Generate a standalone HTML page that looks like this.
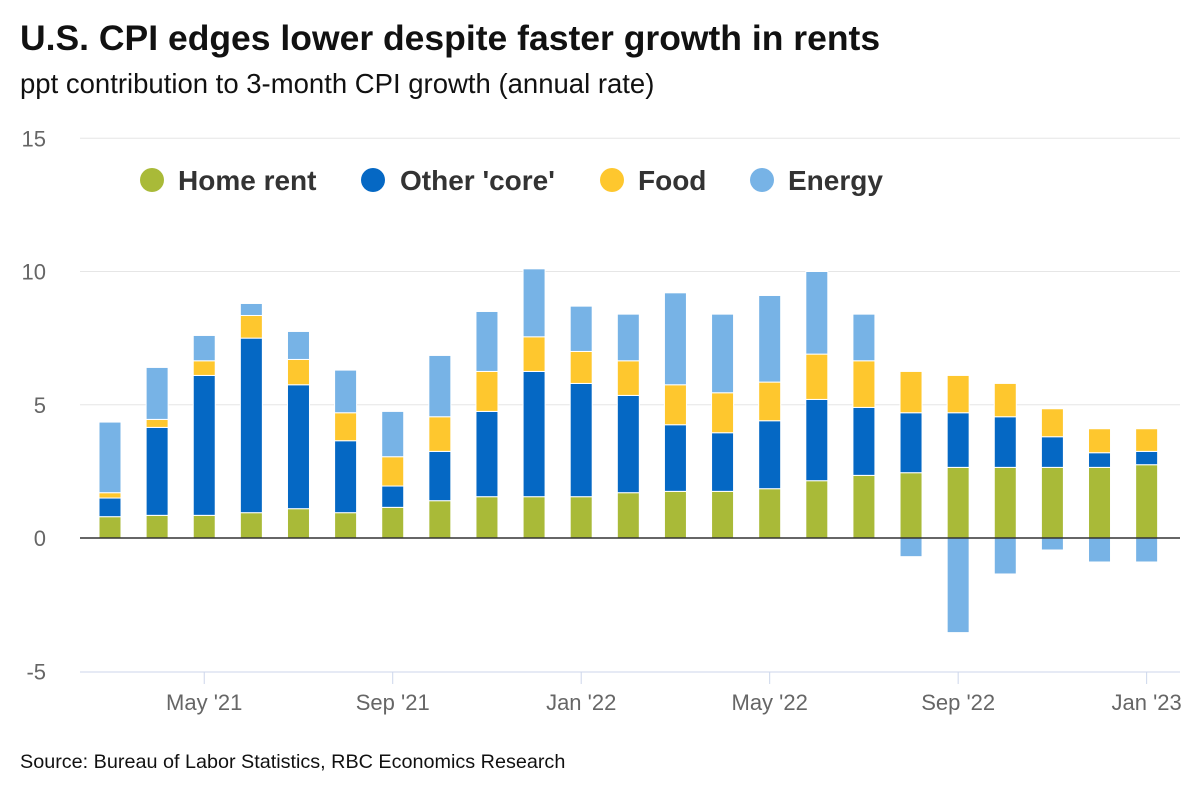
<!DOCTYPE html>
<html><head><meta charset="utf-8"><style>
body{margin:0;background:#fff;font-family:"Liberation Sans",Arial,sans-serif}
svg{display:block}
</style></head><body>
<svg id="chart" width="1200" height="800">
<text x="20" y="50" font-size="35.5" font-weight="bold" fill="#111">U.S. CPI edges lower despite faster growth in rents</text>
<text x="20" y="93" font-size="27.5" fill="#111">ppt contribution to 3-month CPI growth (annual rate)</text>
<text x="20" y="768" font-size="19.8" fill="#111">Source: Bureau of Labor Statistics, RBC Economics Research</text>
<g id="grid"></g><g id="bars"></g><g id="axes"></g>
<g font-size="28" font-weight="bold" fill="#333">
<circle cx="152" cy="180" r="12" fill="#a9ba38"/><text x="178" y="190">Home rent</text>
<circle cx="373" cy="180" r="12" fill="#0568c4"/><text x="400" y="190">Other 'core'</text>
<circle cx="612" cy="180" r="12" fill="#fec72e"/><text x="638" y="190">Food</text>
<circle cx="762" cy="180" r="12" fill="#77b3e6"/><text x="788" y="190">Energy</text>
</g>
</svg>
<script>
const months=["Mar '21","Apr '21","May '21","Jun '21","Jul '21","Aug '21","Sep '21","Oct '21","Nov '21","Dec '21","Jan '22","Feb '22","Mar '22","Apr '22","May '22","Jun '22","Jul '22","Aug '22","Sep '22","Oct '22","Nov '22","Dec '22","Jan '23"];
const homeRent=[0.8,0.85,0.85,0.95,1.1,0.95,1.15,1.4,1.55,1.55,1.55,1.7,1.75,1.75,1.85,2.15,2.35,2.45,2.65,2.65,2.65,2.65,2.75];
const otherCore=[0.7,3.3,5.25,6.55,4.65,2.7,0.8,1.85,3.2,4.7,4.25,3.65,2.5,2.2,2.55,3.05,2.55,2.25,2.05,1.9,1.15,0.55,0.5];
const food=[0.2,0.3,0.55,0.85,0.95,1.05,1.1,1.3,1.5,1.3,1.2,1.3,1.5,1.5,1.45,1.7,1.75,1.55,1.4,1.25,1.05,0.9,0.85];
const energy=[2.65,1.95,0.95,0.45,1.05,1.6,1.7,2.3,2.25,2.55,1.7,1.75,3.45,2.95,3.25,3.1,1.75,-0.7,-3.55,-1.35,-0.45,-0.9,-0.9];
const yTicks=[-5,0,5,10,15];
const xTickLabels=["May '21","Sep '21","Jan '22","May '22","Sep '22","Jan '23"];
const NS="http://www.w3.org/2000/svg";
const y=v=>538-v*26.65;
const x=i=>110+i*47.12;
function mk(t,a,p){const e=document.createElementNS(NS,t);for(const k in a)e.setAttribute(k,a[k]);p.appendChild(e);return e;}
const grid=document.getElementById('grid'),bars=document.getElementById('bars'),axes=document.getElementById('axes');
yTicks.forEach(v=>{
 if(v!==-5&&v!==0){const l=mk('line',{x1:80,x2:1180,y1:y(v),y2:y(v),stroke:'#e6e6e6','stroke-width':1},grid);
 
 }
 const t=mk('text',{x:46,y:y(v)+8,'text-anchor':'end','font-size':22,fill:'#666'},axes);t.textContent=v;
 
 
});
const series=[["home-rent",homeRent,"#a9ba38"],["other-core",otherCore,"#0568c4"],["food",food,"#fec72e"],["energy",energy,"#77b3e6"]];
months.forEach((m,i)=>{
 let pos=0,neg=0;
 series.forEach(([n,arr,c])=>{
  const v=arr[i];let y0,y1;
  if(v>=0){y0=y(pos);pos+=v;y1=y(pos);}else{y1=y(neg);neg+=v;y0=y(neg);}
  const top=Math.min(y0,y1),h=Math.abs(y0-y1);
  const r=mk('rect',{x:x(i)-11,y:top,width:22,height:h,fill:c,stroke:'#fff','stroke-width':1},bars);
  
  
 });
});
const z=mk('line',{x1:80,x2:1180,y1:y(0),y2:y(0),stroke:'#333','stroke-width':1.5},axes);


const ax=mk('line',{x1:80,x2:1180,y1:672,y2:672,stroke:'#ccd6eb','stroke-width':1},axes);


xTickLabels.forEach(lbl=>{
 const i=months.indexOf(lbl);
 const tk=mk('line',{x1:x(i),x2:x(i),y1:672,y2:684,stroke:'#ccd6eb'},axes);
 
 
 const t=mk('text',{x:x(i),y:710,'text-anchor':'middle','font-size':22,fill:'#666'},axes);t.textContent=lbl;
 
 
});
</script>
</body></html>
